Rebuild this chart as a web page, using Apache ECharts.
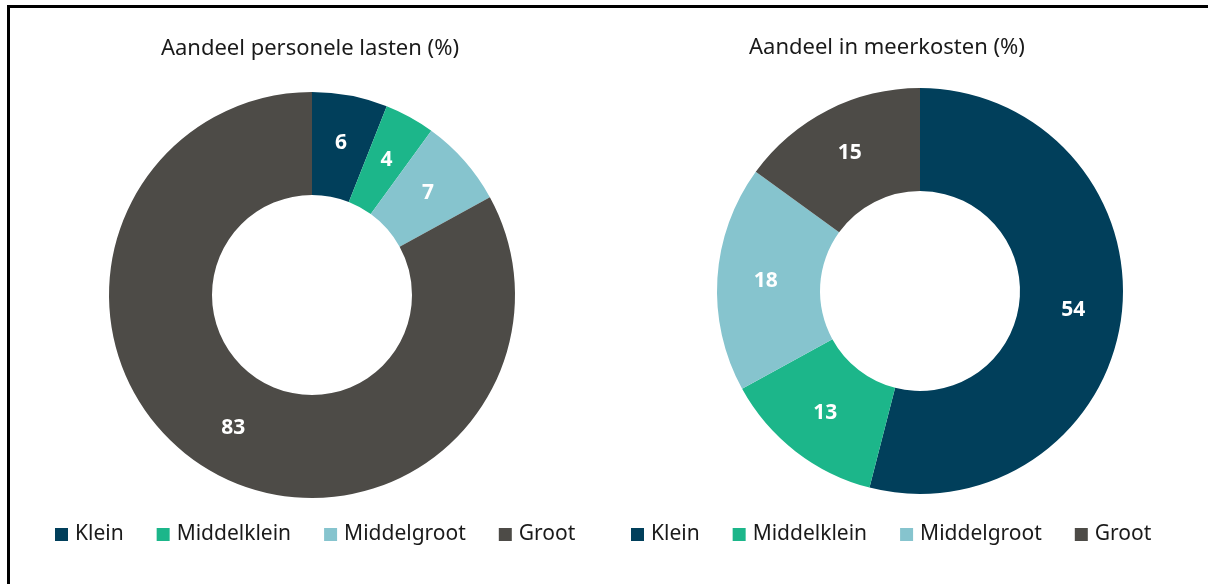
<!DOCTYPE html>
<html>
<head>
<meta charset="utf-8">
<script src="https://cdn.jsdelivr.net/npm/echarts@6/dist/echarts.min.js"></script>
<style>
  html, body { margin: 0; padding: 0; background: #fff; }
  .frame {
    position: absolute; left: 7px; top: 5px; width: 1201px; height: 579px;
    border-top: 3px solid #000; border-left: 3px solid #000;
    box-sizing: border-box;
  }
  #chart { position: absolute; left: 0; top: 0; width: 1208px; height: 584px; }
</style>
</head>
<body>
<div class="frame"></div>
<div id="chart"></div>
<script>
  // categorieen en waarden
  const categories = ['Klein', 'Middelklein', 'Middelgroot', 'Groot']
  const personeleLasten = [6, 4, 7, 83]
  const meerkosten = [54, 13, 18, 15]
  const colors = ['#013F5B', '#1CB68A', '#86C4CE', '#4D4B47']

  const font = 'Noto Sans'

  function pieData(values) {
    return categories.map((name, i) => ({ name: name, value: values[i] }))
  }

  function legend(left) {
    return {
      left: left,
      top: 524,
      padding: 0,
      itemWidth: 13,
      itemHeight: 13,
      itemGap: 33,
      icon: 'rect',
      textStyle: { fontFamily: font, fontSize: 21, color: '#1a1a1a', padding: [0, 0, 0, 2] },
      data: categories
    }
  }

  function series(center, values) {
    return {
      type: 'pie',
      center: center,
      radius: [100, 203],
      startAngle: 90,
      clockwise: true,
      silent: true,
      avoidLabelOverlap: false,
      label: {
        show: true,
        position: 'inside',
        formatter: '{c}',
        color: '#fff',
        fontFamily: font,
        fontWeight: 'bold',
        fontSize: 21,
        padding: [4, 0, 0, 0]
      },
      labelLine: { show: false },
      itemStyle: { borderWidth: 0 },
      data: pieData(values)
    }
  }

  const chart = echarts.init(document.getElementById('chart'))
  chart.setOption({
    animation: false,
    color: colors,
    title: [
      {
        text: 'Aandeel personele lasten (%)',
        left: 305, top: 33, textAlign: 'center',
        textStyle: { fontFamily: font, fontSize: 22, fontWeight: 'normal', color: '#1a1a1a' }
      },
      {
        text: 'Aandeel in meerkosten (%)',
        left: 882, top: 32, textAlign: 'center',
        textStyle: { fontFamily: font, fontSize: 22, fontWeight: 'normal', color: '#1a1a1a' }
      }
    ],
    legend: [legend(55), legend(631)],
    series: [
      series([312, 295], personeleLasten),
      series([920, 291], meerkosten)
    ]
  })
</script>
</body>
</html>
